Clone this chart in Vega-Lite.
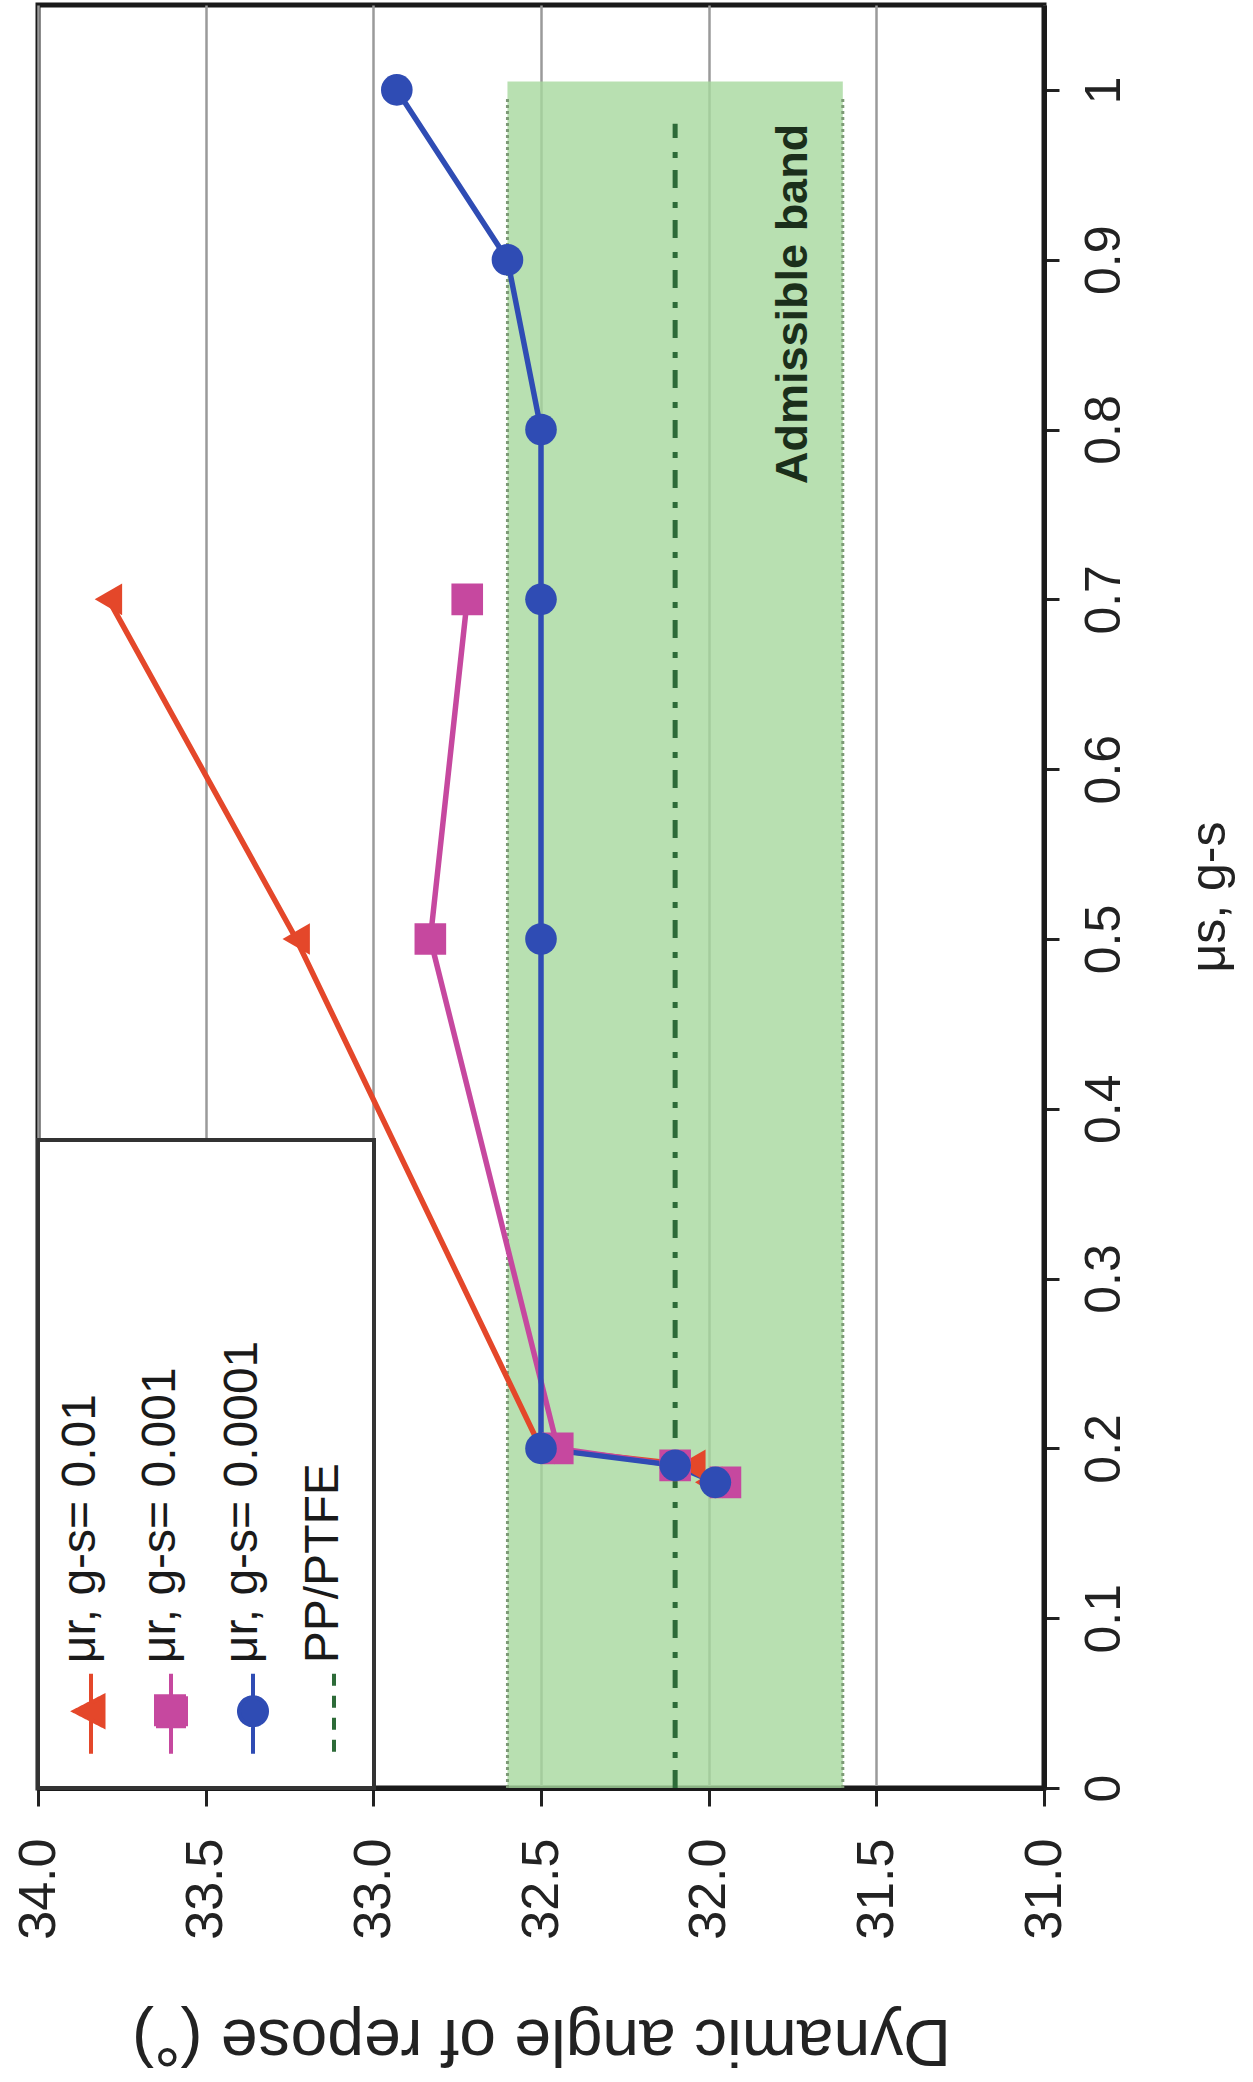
{
  "$schema": "https://vega.github.io/schema/vega-lite/v6.json",
  "width": 1006,
  "height": 1783,
  "autosize": {"type": "none"},
  "padding": {"left": 38, "top": 5, "right": 209, "bottom": 294},
  "background": "white",
  "config": {
    "font": "Liberation Sans",
    "view": {"stroke": "#1a1a1a", "strokeWidth": 5},
    "axis": {
      "labelFont": "Liberation Sans",
      "titleFont": "Liberation Sans",
      "titleFontWeight": "normal",
      "labelColor": "#222222",
      "titleColor": "#222222"
    }
  },
  "datasets": {
    "runs": [
      {"series": "μr, g-s= 0.01", "mu": 0.18, "angle": 32.0},
      {"series": "μr, g-s= 0.01", "mu": 0.19, "angle": 32.05},
      {"series": "μr, g-s= 0.01", "mu": 0.2, "angle": 32.5},
      {"series": "μr, g-s= 0.01", "mu": 0.5, "angle": 33.23},
      {"series": "μr, g-s= 0.01", "mu": 0.7, "angle": 33.79},
      {"series": "μr, g-s= 0.001", "mu": 0.18, "angle": 31.95},
      {"series": "μr, g-s= 0.001", "mu": 0.19, "angle": 32.1},
      {"series": "μr, g-s= 0.001", "mu": 0.2, "angle": 32.45},
      {"series": "μr, g-s= 0.001", "mu": 0.5, "angle": 32.83},
      {"series": "μr, g-s= 0.001", "mu": 0.7, "angle": 32.72},
      {"series": "μr, g-s= 0.0001", "mu": 0.18, "angle": 31.98},
      {"series": "μr, g-s= 0.0001", "mu": 0.19, "angle": 32.1},
      {"series": "μr, g-s= 0.0001", "mu": 0.2, "angle": 32.5},
      {"series": "μr, g-s= 0.0001", "mu": 0.5, "angle": 32.5},
      {"series": "μr, g-s= 0.0001", "mu": 0.7, "angle": 32.5},
      {"series": "μr, g-s= 0.0001", "mu": 0.8, "angle": 32.5},
      {"series": "μr, g-s= 0.0001", "mu": 0.9, "angle": 32.6},
      {"series": "μr, g-s= 0.0001", "mu": 1.0, "angle": 32.93}
    ],
    "reference": [{"series": "PP/PTFE", "angle": 32.1}],
    "band": [{"lower": 31.6, "upper": 32.6, "note": "Admissible band"}]
  },
  "layer": [
    {
      "data": {"name": "band"},
      "mark": {"type": "rect", "color": "#a6d89e", "opacity": 0.8},
      "encoding": {
        "x": {
          "field": "upper",
          "type": "quantitative",
          "title": "Dynamic angle of repose (°)",
          "scale": {"domain": [31, 34], "reverse": true, "nice": false, "zero": false},
          "axis": {
            "orient": "bottom",
            "values": [31, 31.5, 32, 32.5, 33, 33.5, 34],
            "format": ".1f",
            "labelAngle": 270,
            "labelAlign": "right",
            "labelBaseline": "middle",
            "labelFontSize": 52,
            "labelPadding": 32,
            "labelFlush": false,
            "labelOverlap": false,
            "tickSize": 18,
            "tickWidth": 3,
            "tickColor": "#222222",
            "domainColor": "#1a1a1a",
            "domainWidth": 5,
            "grid": true,
            "gridColor": "#9a9a9a",
            "gridWidth": 2.5,
            "titleAngle": 180,
            "titleBaseline": "bottom",
            "titleFontSize": 66,
            "titlePadding": 66
          }
        },
        "x2": {"field": "lower"},
        "y": {
          "datum": 0,
          "type": "quantitative",
          "title": "μs, g-s",
          "scale": {"domain": [0, 1.05], "nice": false, "zero": true},
          "axis": {
            "orient": "right",
            "values": [0, 0.1, 0.2, 0.3, 0.4, 0.5, 0.6, 0.7, 0.8, 0.9, 1],
            "format": "~g",
            "labelAngle": 270,
            "labelAlign": "center",
            "labelBaseline": "top",
            "labelFontSize": 50,
            "labelPadding": 20,
            "labelFlush": false,
            "labelOverlap": false,
            "tickSize": 15,
            "tickWidth": 3,
            "tickColor": "#222222",
            "domainColor": "#1a1a1a",
            "domainWidth": 5,
            "grid": false,
            "titleAngle": 270,
            "titleBaseline": "top",
            "titleFontSize": 50,
            "titlePadding": 55
          }
        },
        "y2": {"datum": 1.005}
      }
    },
    {
      "data": {"name": "band"},
      "mark": {"type": "rule", "color": "#7d9a76", "strokeWidth": 3, "strokeDash": [3, 3]},
      "encoding": {
        "x": {"field": "upper", "type": "quantitative"},
        "y": {"datum": 0, "type": "quantitative"},
        "y2": {"datum": 0.995}
      }
    },
    {
      "data": {"name": "band"},
      "mark": {"type": "rule", "color": "#7d9a76", "strokeWidth": 3, "strokeDash": [3, 3]},
      "encoding": {
        "x": {"field": "lower", "type": "quantitative"},
        "y": {"datum": 0, "type": "quantitative"},
        "y2": {"datum": 0.995}
      }
    },
    {
      "data": {"name": "reference"},
      "mark": {"type": "rule", "strokeWidth": 5, "strokeDash": [18, 12, 6, 14]},
      "encoding": {
        "x": {"field": "angle", "type": "quantitative"},
        "y": {"datum": 0, "type": "quantitative"},
        "y2": {"datum": 0.98},
        "color": {"field": "series", "type": "nominal"}
      }
    },
    {
      "data": {"name": "runs"},
      "mark": {"type": "line", "strokeWidth": 5.5},
      "encoding": {
        "x": {"field": "angle", "type": "quantitative", "title": "Dynamic angle of repose (°)"},
        "y": {"field": "mu", "type": "quantitative", "title": "μs, g-s"},
        "order": {"field": "mu", "type": "quantitative"},
        "color": {
          "field": "series",
          "type": "nominal",
          "scale": {
            "domain": ["μr, g-s= 0.01", "μr, g-s= 0.001", "μr, g-s= 0.0001", "PP/PTFE"],
            "range": ["#e4472a", "#c6489f", "#2f4cb4", "#2d6b38"]
          },
          "legend": {
            "orient": "bottom-left",
            "offset": 0,
            "title": " ",
            "titleFontSize": 558,
            "titlePadding": 0,
            "direction": "horizontal",
            "columns": 4,
            "columnPadding": 24,
            "padding": 26,
            "fillColor": "white",
            "strokeColor": "#333333",
            "symbolSize": 2500,
            "symbolStrokeWidth": 4,
            "labelFontSize": 48,
            "labelFont": "Liberation Sans",
            "labelColor": "#1a1a1a",
            "labelLimit": 600,
            "labelOffset": -25,
            "encoding": {
              "legend": {"strokeWidth": {"value": 4}},
              "labels": {
                "angle": {"value": 270},
                "align": {"value": "left"},
                "baseline": {"value": "middle"},
                "dx": {"value": 88},
                "dy": {"value": -12}
              },
              "symbols": {
                "shape": {"value": {"expr": "['M0,-3.1L0,0.1M-0.66,-1.6L0.5,-2.2L0.5,-1.0Z','M0,-3.1L0,0.1M-0.6,-2.2L0.6,-2.2L0.6,-1.0L-0.6,-1.0Z','M0,-3.1L0,0.1M-0.56,-1.6A0.56,0.56,0,1,0,0.56,-1.6A0.56,0.56,0,1,0,-0.56,-1.6Z','M0,-3.1L0,0.1'][indexof(domain('color'), datum.value)]"}},
                "fill": {"value": {"expr": "indexof(domain('color'), datum.value) < 3 ? scale('color', datum.value) : 'transparent'"}},
                "strokeDash": {"value": {"expr": "datum.value === 'PP/PTFE' ? [12, 10] : [1, 0]"}},
                "opacity": {"value": 1}
              }
            }
          }
        }
      }
    },
    {
      "data": {"name": "runs"},
      "mark": {"type": "point", "filled": true, "size": 1000, "opacity": 1},
      "encoding": {
        "x": {"field": "angle", "type": "quantitative", "title": "Dynamic angle of repose (°)"},
        "y": {"field": "mu", "type": "quantitative", "title": "μs, g-s"},
        "color": {"field": "series", "type": "nominal"},
        "shape": {
          "field": "series",
          "type": "nominal",
          "scale": {
            "domain": ["μr, g-s= 0.01", "μr, g-s= 0.001", "μr, g-s= 0.0001"],
            "range": ["triangle-left", "square", "circle"]
          },
          "legend": null
        }
      }
    },
    {
      "data": {"name": "band"},
      "mark": {
        "type": "text",
        "angle": 270,
        "align": "right",
        "baseline": "middle",
        "font": "Liberation Sans",
        "fontWeight": "bold",
        "fontSize": 45,
        "color": "#1b2f1b"
      },
      "encoding": {
        "x": {"datum": 31.75, "type": "quantitative"},
        "y": {"datum": 0.98, "type": "quantitative"},
        "text": {"field": "note", "type": "nominal"}
      }
    }
  ]
}
